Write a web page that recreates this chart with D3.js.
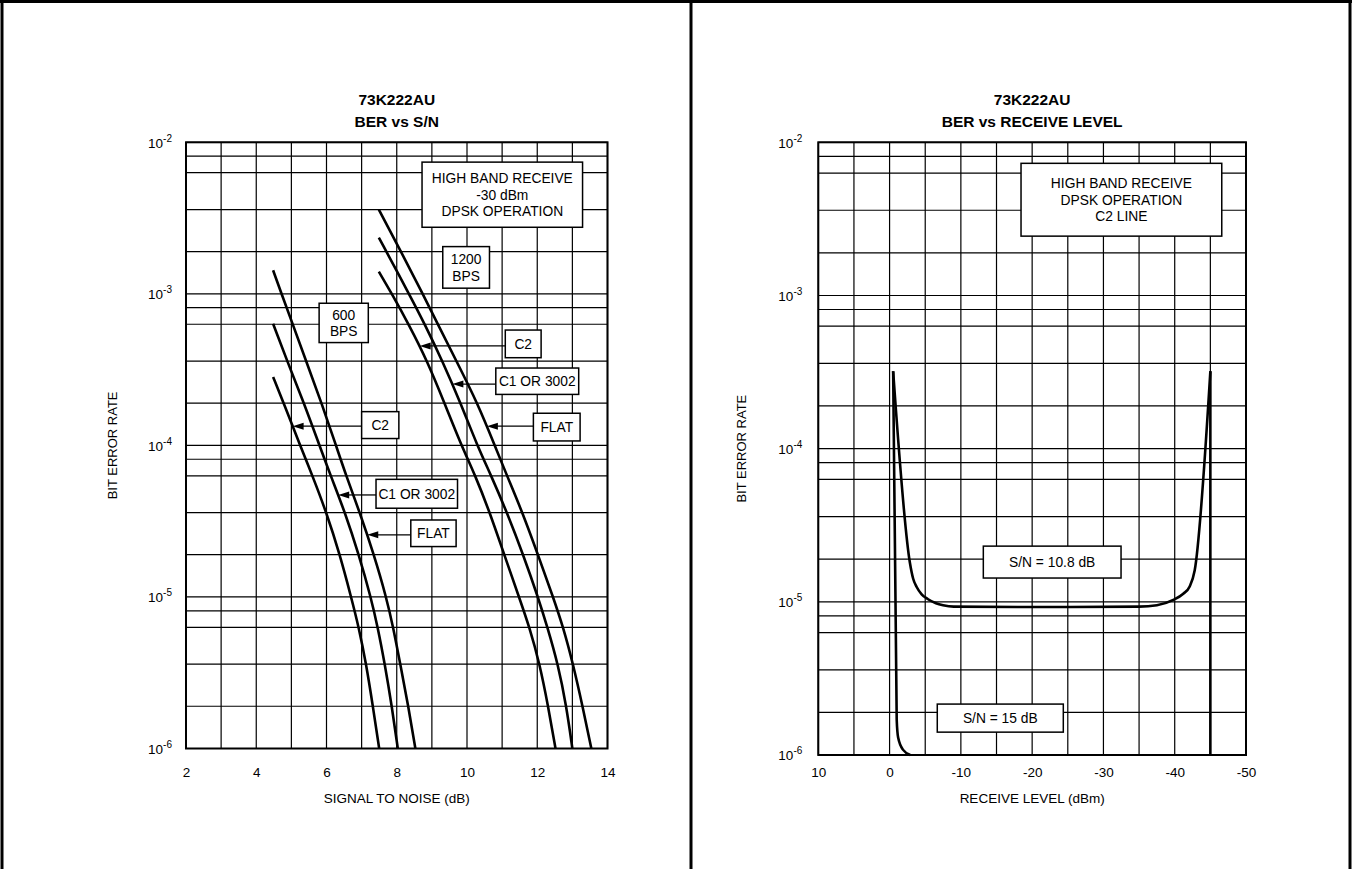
<!DOCTYPE html>
<html>
<head>
<meta charset="utf-8">
<script src="https://cdn.jsdelivr.net/npm/d3@7"></script>
<style>
  body { margin: 0; background: #fff; }
  svg { display: block; font-family: "Liberation Sans", Arial, Helvetica, sans-serif; }
</style>
</head>
<body>
<svg id="chart" width="1352" height="869"></svg>
<script>
// tick labels
const snTicks = [2, 4, 6, 8, 10, 12, 14];
const levelTicks = [10, 0, -10, -20, -30, -40, -50];
const berDecades = [1e-6, 1e-5, 1e-4, 1e-3, 1e-2];
const berMinor = [1.9, 3.6, 6.3, 8.1];

// BER vs S/N, [S/N dB, BER]
const c2At600 = [[4.48, 2.83e-4], [4.78, 1.9e-4], [5.25, 1e-4], [5.6, 6.3e-5], [6.0, 3.6e-5],
  [6.38, 1.9e-5], [6.7, 1e-5], [6.92, 6.3e-6], [7.13, 3.6e-6], [7.32, 1.9e-6], [7.5, 1e-6]];
const c1At600 = [[4.48, 6.35e-4], [4.88, 3.6e-4], [5.36, 1.9e-4], [5.8, 1e-4], [6.12, 6.3e-5],
  [6.53, 3.6e-5], [6.92, 1.9e-5], [7.26, 1e-5], [7.46, 6.3e-6], [7.66, 3.6e-6], [7.86, 1.9e-6], [8.03, 1e-6]];
const flat600 = [[4.48, 1.43e-3], [4.72, 1e-3], [5.04, 6.3e-4], [5.42, 3.6e-4], [5.86, 1.9e-4],
  [6.27, 1e-4], [6.56, 6.3e-5], [6.95, 3.6e-5], [7.35, 1.9e-5], [7.7, 1e-5], [7.9, 6.3e-6],
  [8.1, 3.6e-6], [8.33, 1.9e-6], [8.53, 1e-6]];
const c2At1200 = [[7.49, 1.4e-3], [7.86, 1e-3], [8.34, 6.3e-4], [8.87, 3.6e-4], [9.36, 1.9e-4],
  [9.84, 1e-4], [10.24, 6.3e-5], [10.65, 3.6e-5], [11.06, 1.9e-5], [11.48, 1e-5], [11.78, 6.3e-6],
  [12.07, 3.6e-6], [12.31, 1.9e-6], [12.52, 1e-6]];
const c1At1200 = [[7.49, 2.35e-3], [8.35, 1e-3], [8.8, 6.3e-4], [9.3, 3.6e-4], [9.82, 1.9e-4],
  [10.29, 1e-4], [10.69, 6.3e-5], [11.14, 3.6e-5], [11.6, 1.9e-5], [12.02, 1e-5], [12.29, 6.3e-6],
  [12.59, 3.6e-6], [12.83, 1.9e-6], [13.0, 1e-6]];
const flat1200 = [[7.49, 3.6e-3], [8.12, 1.9e-3], [8.74, 1e-3], [9.17, 6.3e-4], [9.7, 3.6e-4],
  [10.3, 1.9e-4], [10.79, 1e-4], [11.14, 6.3e-5], [11.58, 3.6e-5], [12.02, 1.9e-5], [12.45, 1e-5],
  [12.74, 6.3e-6], [13.02, 3.6e-6], [13.29, 1.9e-6], [13.54, 1e-6]];

// BER vs receive level, [dBm, BER]
const sn108 = [[-0.5, 3.2e-4], [-2.85, 1.8e-5], [-3.3, 1.42e-5], [-3.8, 1.25e-5], [-4.5, 1.12e-5],
  [-5.4, 1.04e-5], [-6.5, 9.8e-6], [-7.5, 9.5e-6], [-9, 9.3e-6], [-20, 9.25e-6], [-35, 9.3e-6],
  [-37.5, 9.5e-6], [-39.8, 1.03e-5], [-41.2, 1.13e-5], [-42.1, 1.26e-5], [-42.8, 1.6e-5], [-45, 3.2e-4]];
const sn15Low = [[-0.5, 3.2e-4], [-1.0, 1.7e-6], [-1.2, 1.3e-6], [-1.9, 1.08e-6], [-2.9, 1e-6]];
const sn15High = [[-45, 1e-6], [-45, 3.2e-4]];

// label boxes, corners in chart units
const snNotes = [
  { lines: ["HIGH BAND RECEIVE", "-30 dBm", "DPSK OPERATION"], x0: 8.72, x1: 13.29, y0: 7.4e-3, y1: 2.75e-3 },
  { lines: ["1200", "BPS"], x0: 9.31, x1: 10.64, y0: 2.05e-3, y1: 1.09e-3 },
  { lines: ["600", "BPS"], x0: 5.79, x1: 7.19, y0: 8.67e-4, y1: 4.77e-4 },
  { lines: ["C2"], x0: 11.09, x1: 12.11, y0: 5.77e-4, y1: 3.79e-4, arrowAt: 4.53e-4, curve: c2At1200 },
  { lines: ["C1 OR 3002"], x0: 10.82, x1: 13.18, y0: 3.24e-4, y1: 2.17e-4, arrowAt: 2.54e-4, curve: c1At1200 },
  { lines: ["FLAT"], x0: 11.89, x1: 13.22, y0: 1.63e-4, y1: 1.07e-4, arrowAt: 1.34e-4, curve: flat1200 },
  { lines: ["C2"], x0: 7.0, x1: 8.06, y0: 1.67e-4, y1: 1.11e-4, arrowAt: 1.34e-4, curve: c2At600 },
  { lines: ["C1 OR 3002"], x0: 7.41, x1: 9.73, y0: 5.97e-5, y1: 3.85e-5, arrowAt: 4.71e-5, curve: c1At600 },
  { lines: ["FLAT"], x0: 8.4, x1: 9.69, y0: 3.22e-5, y1: 2.15e-5, arrowAt: 2.57e-5, curve: flat600 },
];
const levelNotes = [
  { lines: ["HIGH BAND RECEIVE", "DPSK OPERATION", "C2 LINE"], x0: -18.44, x1: -46.6, y0: 7.29e-3, y1: 2.44e-3 },
  { lines: ["S/N = 10.8 dB"], x0: -13.15, x1: -32.47, y0: 2.31e-5, y1: 1.43e-5 },
  { lines: ["S/N = 15 dB"], x0: -6.69, x1: -24.37, y0: 2.15e-6, y1: 1.41e-6 },
];

const svg = d3.select("#chart");

// page frame
const frame = svg.append("g").attr("stroke", "#000").attr("stroke-width", 3);
frame.append("line").attr("x1", 0).attr("x2", 1352).attr("y1", 1.5).attr("y2", 1.5);
[2, 691, 1350].forEach((fx) =>
  frame.append("line").attr("x1", fx).attr("x2", fx).attr("y1", 0).attr("y2", 869)
);

function curveXAt(curve, ber) {
  for (let i = 0; i < curve.length - 1; i++) {
    const a = curve[i], b = curve[i + 1];
    if (ber <= a[1] && ber >= b[1]) {
      const t = Math.log(a[1] / ber) / Math.log(a[1] / b[1]);
      return a[0] + t * (b[0] - a[0]);
    }
  }
  return curve[0][0];
}

function drawPanel(p) {
  const g = svg.append("g");
  const x = d3.scaleLinear().domain(p.xDomain).range(p.xRange);
  const y = d3.scaleLog().domain([1e-6, 1e-2]).range(p.yRange);
  const [left, right] = p.xRange;
  const [bottom, top] = p.yRange;

  // grid
  const hVals = [];
  berDecades.forEach((d) => {
    hVals.push(d);
    if (d < 1e-2) berMinor.forEach((m) => hVals.push(d * m));
  });
  g.append("g")
    .selectAll("line")
    .data(hVals)
    .join("line")
    .attr("x1", left).attr("x2", right)
    .attr("y1", (d) => y(d)).attr("y2", (d) => y(d))
    .attr("stroke", "#000").attr("stroke-width", 1.2);
  g.append("g")
    .selectAll("line")
    .data(p.xGrid)
    .join("line")
    .attr("x1", (d) => x(d)).attr("x2", (d) => x(d))
    .attr("y1", top).attr("y2", bottom)
    .attr("stroke", "#000").attr("stroke-width", 1.2);
  g.append("rect")
    .attr("x", left).attr("y", top)
    .attr("width", right - left).attr("height", bottom - top)
    .attr("fill", "none").attr("stroke", "#000").attr("stroke-width", 2);

  // axes
  const xa = g.append("g")
    .attr("transform", `translate(0,${bottom})`)
    .call(d3.axisBottom(x).tickValues(p.xTicks).tickSize(0).tickPadding(p.xPad).tickFormat((d) => String(d)));
  xa.select(".domain").remove();
  xa.selectAll("text").attr("font-size", 13.5).attr("fill", "#000");

  const ya = g.append("g")
    .attr("transform", `translate(${left},0)`)
    .call(d3.axisLeft(y).tickValues(berDecades).tickSize(0).tickPadding(p.yPad).tickFormat(() => ""));
  ya.select(".domain").remove();
  ya.selectAll(".tick text").each(function (d) {
    const t = d3.select(this).attr("font-size", 13.5).attr("fill", "#000").attr("dy", "0.36em");
    t.append("tspan").text("10");
    t.append("tspan").attr("dy", -6).attr("font-size", 10).text(String(Math.round(Math.log10(d))));
  });
  svg.selectAll(".tick text").style("font-family", "inherit");

  const cx = (left + right) / 2;
  g.append("text").attr("x", cx).attr("y", 803).attr("text-anchor", "middle")
    .attr("font-size", 13.5).text(p.xTitle);
  g.append("text")
    .attr("transform", `translate(${left - p.yTitleOff},${(top + bottom) / 2}) rotate(-90)`)
    .attr("text-anchor", "middle").attr("font-size", 13).text("BIT ERROR RATE");
  p.title.forEach((s, i) =>
    g.append("text").attr("x", cx).attr("y", 105 + i * 22).attr("text-anchor", "middle")
      .attr("font-size", 15.5).attr("font-weight", "bold").text(s)
  );

  // curves
  p.series.forEach((s) => {
    const line = d3.line()
      .x((d) => x(d[0]))
      .y((d) => y(d[1]))
      .curve(s.curve || p.curve);
    g.append("path").datum(s.data)
      .attr("d", line)
      .attr("fill", "none").attr("stroke", "#000")
      .attr("stroke-width", 2.6).attr("stroke-linejoin", "round");
  });

  // labels and arrows
  p.notes.forEach((n) => {
    const bx = Math.min(x(n.x0), x(n.x1));
    const bw = Math.abs(x(n.x1) - x(n.x0));
    const by = y(n.y0), bh = y(n.y1) - y(n.y0);
    if (n.curve) {
      const ay = y(n.arrowAt);
      const tip = x(curveXAt(n.curve, n.arrowAt));
      g.append("line").attr("x1", bx).attr("x2", tip + 8).attr("y1", ay).attr("y2", ay)
        .attr("stroke", "#000").attr("stroke-width", 1.3);
      g.append("path")
        .attr("d", `M${tip},${ay}L${tip + 11},${ay - 3.5}L${tip + 11},${ay + 3.5}Z`)
        .attr("fill", "#000");
    }
    g.append("rect").attr("x", bx).attr("y", by).attr("width", bw).attr("height", bh)
      .attr("fill", "#fff").attr("stroke", "#000").attr("stroke-width", 1.5);
    const midY = by + bh / 2;
    n.lines.forEach((s, i) =>
      g.append("text")
        .attr("x", bx + bw / 2)
        .attr("y", midY + (i - (n.lines.length - 1) / 2) * 16.5 + 5)
        .attr("text-anchor", "middle").attr("font-size", 13.8).text(s)
    );
  });
}

drawPanel({
  xDomain: [2, 14], xRange: [186, 607.5], yRange: [748.5, 142.3],
  xGrid: d3.range(2, 14.01, 1), xTicks: snTicks, xPad: 19, yPad: 14, yTitleOff: 69,
  xTitle: "SIGNAL TO NOISE (dB)", title: ["73K222AU", "BER vs S/N"],
  curve: d3.curveBasis,
  series: [c2At600, c1At600, flat600, c2At1200, c1At1200, flat1200].map((data) => ({ data })),
  notes: snNotes,
});

drawPanel({
  xDomain: [10, -50], xRange: [818.3, 1246], yRange: [755, 142.3],
  xGrid: d3.range(10, -50.01, -5), xTicks: levelTicks, xPad: 12.5, yPad: 16, yTitleOff: 72,
  xTitle: "RECEIVE LEVEL (dBm)", title: ["73K222AU", "BER vs RECEIVE LEVEL"],
  curve: d3.curveMonotoneX,
  series: [{ data: sn108 }, { data: sn15Low }, { data: sn15High, curve: d3.curveLinear }],
  notes: levelNotes,
});
</script>
</body>
</html>
